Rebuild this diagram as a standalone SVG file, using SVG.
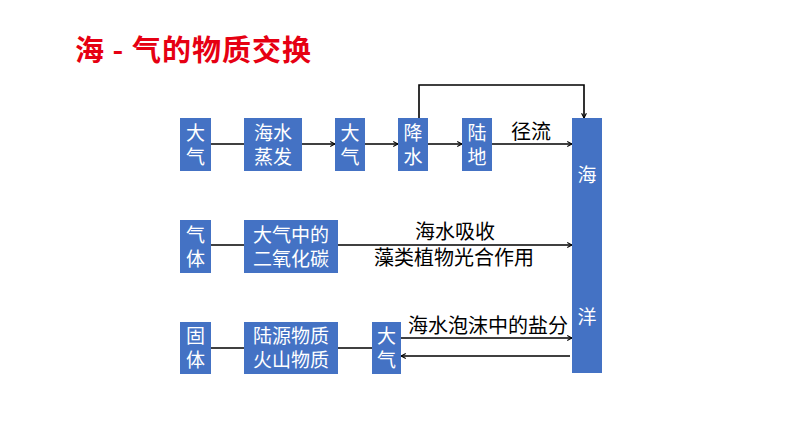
<svg xmlns="http://www.w3.org/2000/svg" width="794" height="447" viewBox="0 0 794 447">
<defs>
<style>
.box{fill:#4472C4}
.bt{font-family:"Noto Sans CJK SC","Liberation Sans",sans-serif;font-size:19px;fill:#fff;text-anchor:middle}
.lb{font-family:"Noto Sans CJK SC","Liberation Sans",sans-serif;font-size:20px;fill:#000;text-anchor:middle}
.ln{stroke:#000;stroke-width:1.6;fill:none}
.ar{stroke:#000;stroke-width:1.6;fill:none;marker-end:url(#ah)}
</style>
<marker id="ah" viewBox="0 0 10 10" refX="9" refY="5" markerWidth="6" markerHeight="6" markerUnits="userSpaceOnUse" orient="auto">
<path d="M1,1 L9,5 L1,9" fill="none" stroke="#000" stroke-width="1.8"/>
</marker>
</defs>
<rect width="794" height="447" fill="#fff"/>
<text x="75" y="61" font-family="Noto Sans CJK SC,Liberation Sans,sans-serif" font-size="29" font-weight="bold" letter-spacing="1" fill="#E60012">海 - 气的物质交换</text>

<g id="connectors">
<line class="ln" x1="211" y1="144" x2="244" y2="144"/>
<line class="ar" x1="302" y1="144" x2="335" y2="144"/>
<line class="ar" x1="365" y1="144" x2="398" y2="144"/>
<line class="ar" x1="428" y1="144" x2="462" y2="144"/>
<line class="ar" x1="492" y1="144" x2="572" y2="144"/>
<polyline class="ar" points="419,118 419,85 584,85 584,118"/>
<line class="ln" x1="211" y1="245" x2="244" y2="245"/>
<line class="ar" x1="338" y1="245" x2="572" y2="245"/>
<line class="ln" x1="211" y1="348" x2="244" y2="348"/>
<line class="ln" x1="338" y1="348" x2="372" y2="348"/>
<line class="ar" x1="401" y1="338" x2="572" y2="338"/>
<line class="ar" x1="570" y1="356" x2="401" y2="356"/>
<text class="lb" x="531" y="139">径流</text>
<text class="lb" x="455" y="239">海水吸收</text>
<text class="lb" x="454" y="265">藻类植物光合作用</text>
<text class="lb" x="488" y="333">海水泡沫中的盐分</text>
</g>

<g id="n1"><rect class="box" x="180" y="118" width="31" height="53"/><text class="bt" x="195.5" y="140">大</text><text class="bt" x="195.5" y="164">气</text></g>
<g id="n2"><rect class="box" x="244" y="118" width="58" height="53"/><text class="bt" x="273" y="140">海水</text><text class="bt" x="273" y="164">蒸发</text></g>
<g id="n3"><rect class="box" x="335" y="118" width="30" height="53"/><text class="bt" x="350" y="140">大</text><text class="bt" x="350" y="164">气</text></g>
<g id="n4"><rect class="box" x="398" y="118" width="30" height="53"/><text class="bt" x="413" y="140">降</text><text class="bt" x="413" y="164">水</text></g>
<g id="n5"><rect class="box" x="462" y="118" width="30" height="53"/><text class="bt" x="477" y="140">陆</text><text class="bt" x="477" y="164">地</text></g>
<g id="ocean"><rect class="box" x="572" y="118" width="30" height="255"/><text class="bt" x="587" y="182">海</text><text class="bt" x="587" y="324">洋</text></g>
<g id="n6"><rect class="box" x="180" y="220" width="31" height="53"/><text class="bt" x="195.5" y="242">气</text><text class="bt" x="195.5" y="266">体</text></g>
<g id="n7"><rect class="box" x="244" y="220" width="94" height="53"/><text class="bt" x="291" y="242">大气中的</text><text class="bt" x="291" y="266">二氧化碳</text></g>
<g id="n8"><rect class="box" x="180" y="322" width="31" height="52"/><text class="bt" x="195.5" y="343">固</text><text class="bt" x="195.5" y="367">体</text></g>
<g id="n9"><rect class="box" x="244" y="322" width="94" height="52"/><text class="bt" x="291" y="343">陆源物质</text><text class="bt" x="291" y="367">火山物质</text></g>
<g id="n10"><rect class="box" x="372" y="322" width="29" height="52"/><text class="bt" x="386.5" y="343">大</text><text class="bt" x="386.5" y="367">气</text></g>
</svg>
